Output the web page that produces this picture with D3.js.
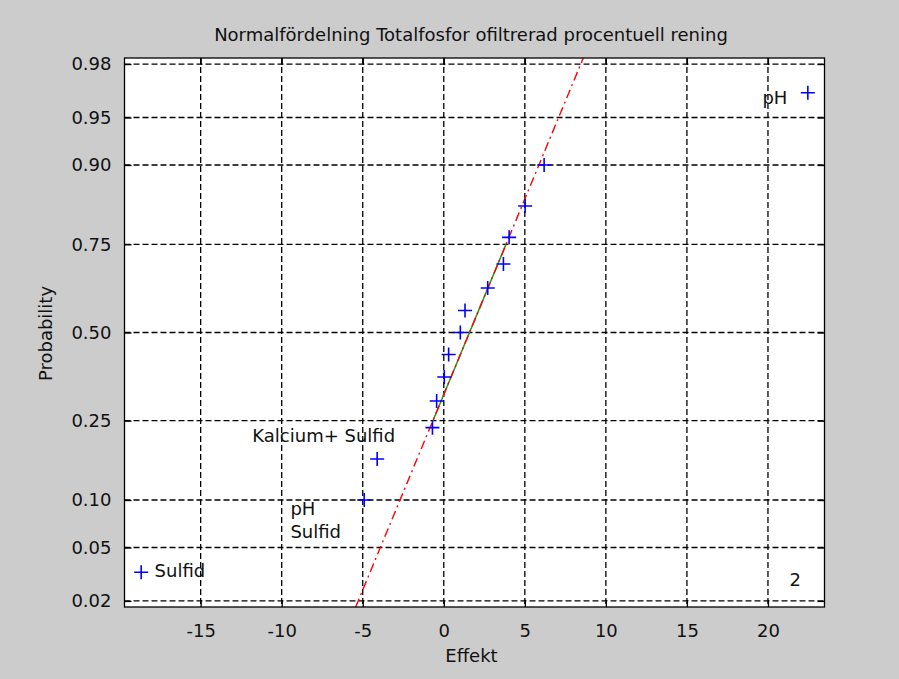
<!DOCTYPE html>
<html><head><meta charset="utf-8">
<script src="https://cdn.jsdelivr.net/npm/d3@7"></script>
<style>
body{margin:0;background:#cccccc;}
svg{display:block;}
text{font-family:"DejaVu Sans",sans-serif;fill:#111;}
</style>
</head><body><div id="chart"></div>
<script>
// ---------- data ----------
const titleText = "Normalfördelning Totalfosfor ofiltrerad procentuell rening";
const xLabelText = "Effekt";
const yLabelText = "Probability";
const effects = [-18.67, -4.91, -4.11, -0.70, -0.44, 0.03, 0.30, 1.02, 1.31, 2.71, 3.68, 4.03, 5.02, 6.19, 22.46];
const probabilities = [0.0333, 0.1, 0.1667, 0.2333, 0.3, 0.3667, 0.4333, 0.5, 0.5667, 0.6333, 0.7, 0.7667, 0.8333, 0.9, 0.9667];
const xTickValues = [-15, -10, -5, 0, 5, 10, 15, 20];
const xTickLabels = ["-15", "-10", "-5", "0", "5", "10", "15", "20"];
const yTickValues = [0.02, 0.05, 0.10, 0.25, 0.50, 0.75, 0.90, 0.95, 0.98];
const yTickLabels = ["0.02", "0.05", "0.10", "0.25", "0.50", "0.75", "0.90", "0.95", "0.98"];
const fitQuartileEffects = [-0.67, 3.84];
const fitQuartileProbs = [0.25, 0.75];
const annotationTexts = ["pH", "Sulfid", "Kalcium+ Sulfid", "pH", "Sulfid", "2"];
const annotationX = [21.2, -17.84, -11.81, -9.46, -9.46, 21.33];
const annotationP = [0.9598, 0.0307, 0.2017, 0.0813, 0.058, 0.0262];

// ---------- helpers ----------
function norminv(p){
  const a=[-3.969683028665376e+01,2.209460984245205e+02,-2.759285104469687e+02,1.383577518672690e+02,-3.066479806614716e+01,2.506628277459239e+00];
  const b=[-5.447609879822406e+01,1.615858368580409e+02,-1.556989798598866e+02,6.680131188771972e+01,-1.328068155288572e+01];
  const c=[-7.784894002430293e-03,-3.223964580411365e-01,-2.400758277161838e+00,-2.549732539343734e+00,4.374664141464968e+00,2.938163982698783e+00];
  const d=[7.784695709041462e-03,3.224671290700398e-01,2.445134137142996e+00,3.754408661907416e+00];
  const pl=0.02425, ph=1-pl; let q,r;
  if(p<pl){q=Math.sqrt(-2*Math.log(p));return (((((c[0]*q+c[1])*q+c[2])*q+c[3])*q+c[4])*q+c[5])/((((d[0]*q+d[1])*q+d[2])*q+d[3])*q+1);}
  if(p<=ph){q=p-0.5;r=q*q;return (((((a[0]*r+a[1])*r+a[2])*r+a[3])*r+a[4])*r+a[5])*q/(((((b[0]*r+b[1])*r+b[2])*r+b[3])*r+b[4])*r+1);}
  q=Math.sqrt(-2*Math.log(1-p));return -(((((c[0]*q+c[1])*q+c[2])*q+c[3])*q+c[4])*q+c[5])/((((d[0]*q+d[1])*q+d[2])*q+d[3])*q+1);
}

// ---------- layout ----------
const W=899, H=679, FS=18;
const L=124.5, R=824.5, T=58, B=607;
const svg=d3.select("#chart").append("svg").attr("width",W).attr("height",H);
svg.append("rect").attr("width",W).attr("height",H).attr("fill","#cccccc");

const ext=d3.extent(effects), pad=(ext[1]-ext[0])*0.025;
const x=d3.scaleLinear().domain([ext[0]-pad, ext[1]+pad]).range([L,R]);
const zScale=d3.scaleLinear().domain([-2.10,2.10]).range([B,T]);
const y=p=>zScale(norminv(p));

svg.append("rect").attr("x",L).attr("y",T).attr("width",R-L).attr("height",B-T).attr("fill","#fff");

// grid
const g=svg.append("g");
g.selectAll(".gx").data(xTickValues).enter().append("line")
  .attr("x1",d=>x(d)).attr("x2",d=>x(d)).attr("y1",T).attr("y2",B)
  .attr("stroke","#000").attr("stroke-width",1.3).attr("stroke-dasharray","6,3");
g.selectAll(".gy").data(yTickValues).enter().append("line")
  .attr("x1",L).attr("x2",R).attr("y1",d=>y(d)).attr("y2",d=>y(d))
  .attr("stroke","#000").attr("stroke-width",1.3).attr("stroke-dasharray","6,3");

// axes via d3.axis (inward ticks) on all sides
const tl=7;
svg.append("g").attr("transform",`translate(0,${B})`)
  .call(d3.axisBottom(x).tickValues(xTickValues).tickSize(-tl).tickPadding(17).tickFormat((d,i)=>xTickLabels[i]))
  .call(s=>{s.select(".domain").remove();s.selectAll("line").attr("stroke","#000").attr("stroke-width",1.3);
    s.selectAll("text").attr("font-size",FS).attr("font-family","DejaVu Sans").attr("fill","#111").attr("dy","0.71em");});
svg.append("g").attr("transform",`translate(0,${T})`)
  .call(d3.axisTop(x).tickValues(xTickValues).tickSize(-tl).tickFormat(""))
  .call(s=>{s.select(".domain").remove();s.selectAll("line").attr("stroke","#000").attr("stroke-width",1.3);});
const yAxisScale=d3.scaleLinear().domain(zScale.domain()).range(zScale.range());
const zTicks=yTickValues.map(norminv);
svg.append("g").attr("transform",`translate(${L},0)`)
  .call(d3.axisLeft(yAxisScale).tickValues(zTicks).tickSize(-tl).tickPadding(13).tickFormat((d,i)=>yTickLabels[i]))
  .call(s=>{s.select(".domain").remove();s.selectAll("line").attr("stroke","#000").attr("stroke-width",1.3);
    s.selectAll("text").attr("font-size",FS).attr("font-family","DejaVu Sans").attr("fill","#111");});
svg.append("g").attr("transform",`translate(${R},0)`)
  .call(d3.axisRight(yAxisScale).tickValues(zTicks).tickSize(-tl).tickFormat(""))
  .call(s=>{s.select(".domain").remove();s.selectAll("line").attr("stroke","#000").attr("stroke-width",1.3);});

// fit lines
const z1=norminv(fitQuartileProbs[0]), z2=norminv(fitQuartileProbs[1]);
const slope=(fitQuartileEffects[1]-fitQuartileEffects[0])/(z2-z1);
const xAtZ=z=>fitQuartileEffects[0]+(z-z1)*slope;
const zd=zScale.domain();
svg.append("line")
  .attr("x1",x(fitQuartileEffects[0])).attr("y1",y(fitQuartileProbs[0]))
  .attr("x2",x(fitQuartileEffects[1])).attr("y2",y(fitQuartileProbs[1]))
  .attr("stroke","#1f9a1f").attr("stroke-width",1.5);
svg.append("line")
  .attr("x1",x(xAtZ(zd[0]))).attr("y1",zScale(zd[0]))
  .attr("x2",x(xAtZ(zd[1]))).attr("y2",zScale(zd[1]))
  .attr("stroke","#ff0000").attr("stroke-width",1.4).attr("stroke-dasharray","9,4,2,4");

// markers
const m=7;
const pts=svg.append("g");
effects.forEach((e,i)=>{
  const cx=x(e), cy=y(probabilities[i]);
  pts.append("path").attr("d",`M${cx-m},${cy}H${cx+m}M${cx},${cy-m}V${cy+m}`)
    .attr("stroke","#0000ff").attr("stroke-width",1.6).attr("fill","none");
});

// box
svg.append("rect").attr("x",L).attr("y",T).attr("width",R-L).attr("height",B-T)
  .attr("fill","none").attr("stroke","#000").attr("stroke-width",1.3);

// annotations
annotationTexts.forEach((t,i)=>{
  svg.append("text").attr("x",x(annotationX[i])).attr("y",y(annotationP[i]))
    .attr("font-size",FS).attr("text-anchor",i===0?"end":"start").text(t);
});

// titles
svg.append("text").attr("x",471).attr("y",41).attr("text-anchor","middle").attr("font-size",FS).text(titleText);
svg.append("text").attr("x",(L+R)/2-3).attr("y",662).attr("text-anchor","middle").attr("font-size",FS).text(xLabelText);
svg.append("text").attr("transform",`translate(52,${(T+B)/2+1}) rotate(-90)`).attr("text-anchor","middle").attr("font-size",FS).text(yLabelText);
</script>
</body></html>
